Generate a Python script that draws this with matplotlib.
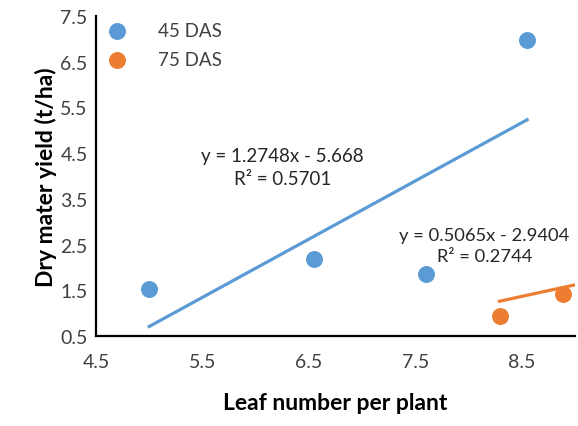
import numpy as np
import matplotlib.pyplot as plt

plt.rcParams['font.family'] = ['Lato', 'DejaVu Sans']

# leaf number per plant vs. dry matter yield
leaf_45 = [5.0, 6.55, 7.6, 8.55]
yield_45 = [1.52, 2.19, 1.86, 6.98]
leaf_75 = [8.29, 8.89]
yield_75 = [0.93, 1.42]

# linear trendlines (slope, intercept, R²)
fit_45 = (1.2748, -5.668, 0.5701)
fit_75 = (0.5065, -2.9404, 0.2744)

blue = '#5B9BD5'
orange = '#ED7D31'

fig = plt.figure(figsize=(5.78, 4.27), dpi=100)
ax = fig.add_axes([0.166, 0.211, 0.829, 0.749])

ax.scatter(leaf_45, yield_45, s=125, color=blue, zorder=3, label='45 DAS')
ax.scatter(leaf_75, yield_75, s=125, color=orange, zorder=3, label='75 DAS')

xlim = (4.5, 9.0)
xs = np.array([min(leaf_45), max(leaf_45)])
ax.plot(xs, fit_45[0] * xs + fit_45[1], color=blue, lw=2.3)
xs = np.array([min(leaf_75), xlim[1] + 0.3])
ax.plot(xs, fit_75[0] * xs + fit_75[1], color=orange, lw=2.3)

ax.text(6.25, 4.2, f'y = {fit_45[0]}x - {-fit_45[1]}\nR² = {fit_45[2]}',
        ha='center', va='center', fontsize=13.5, color='#262626', linespacing=1.4)
ax.text(8.15, 2.48, f'y = {fit_75[0]}x - {-fit_75[1]}\nR² = {fit_75[2]}',
        ha='center', va='center', fontsize=13.2, color='#262626', linespacing=1.4)

ax.set_xlim(*xlim)
ax.set_ylim(0.5, 7.5)
ax.set_xticks(np.arange(4.5, 9.0, 1.0))
ax.set_yticks(np.arange(0.5, 7.6, 1.0))
ax.tick_params(length=0, labelsize=14, labelcolor='#404040', pad=6)
ax.tick_params(axis='x', pad=12)

for side in ['top', 'right']:
    ax.spines[side].set_visible(False)
for side in ['left', 'bottom']:
    ax.spines[side].set_linewidth(1.6)
    ax.spines[side].set_color('black')

ax.set_xlabel('Leaf number per plant', fontsize=16.5, fontweight='bold', labelpad=16)
ax.set_ylabel('Dry mater yield (t/ha)', fontsize=16.5, fontweight='bold', labelpad=2)

ax.legend(loc='upper left', bbox_to_anchor=(-0.03, 1.035), frameon=False,
          fontsize=13.5, handletextpad=1.2, labelspacing=0.65, labelcolor='#404040')

fig.savefig('out.png', dpi=100)
